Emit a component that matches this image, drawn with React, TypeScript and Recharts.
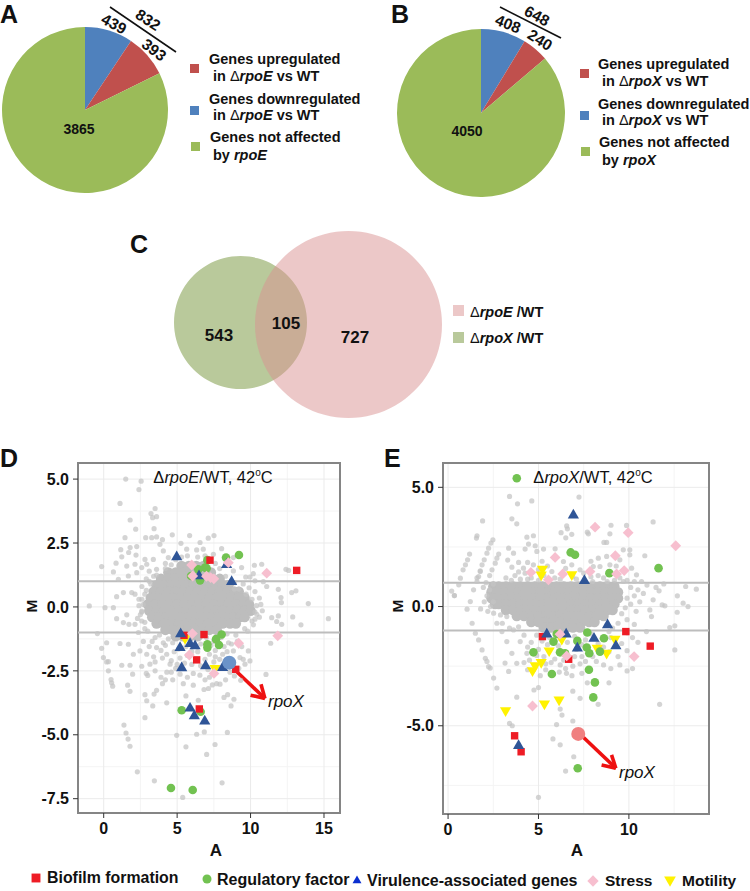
import React from "react";
import {
  CartesianGrid,
  Cell,
  Pie,
  PieChart,
  ReferenceArea,
  ReferenceLine,
  Scatter,
  ScatterChart,
  XAxis,
  YAxis
} from "recharts";

const FONT = "'Liberation Sans', Arial, sans-serif";

// pies: downregulated, upregulated, not affected
const pieNames = ["down", "up", "none"];
const pieColors = ["#4f81bd", "#c0504d", "#9bbb59"];
const rpoECounts = [439, 393, 3865];
const rpoXCounts = [408, 240, 4050];

// venn
const vennOnlyX = 648;
const vennOnlyE = 832;

type Pt = [number, number];

// dense middle of the MA clouds, one row per M value
const coreRowsD: [number, number[]][] = [
  [1.6, [5.3, 5.8, 6.3, 6.8]],
  [1.35, [4.4, 4.9, 5.4, 5.9, 6.4, 6.9, 7.3]],
  [1.1, [3.9, 4.4, 4.9, 5.4, 5.9, 6.4, 6.9, 7.4, 7.9]],
  [0.85, [3.6, 4.1, 4.6, 5.1, 5.6, 6.1, 6.6, 7.1, 7.6, 8.1, 8.5]],
  [0.6, [3.4, 3.9, 4.4, 4.9, 5.4, 5.9, 6.4, 6.9, 7.4, 7.9, 8.4, 8.9, 9.2]],
  [0.35, [3.2, 3.7, 4.2, 4.7, 5.2, 5.7, 6.2, 6.7, 7.2, 7.7, 8.2, 8.7, 9.2, 9.6]],
  [0.1, [3, 3.5, 4, 4.5, 5, 5.5, 6, 6.5, 7, 7.5, 8, 8.5, 9, 9.5, 9.9]],
  [-0.15, [3.1, 3.6, 4.1, 4.6, 5.1, 5.6, 6.1, 6.6, 7.1, 7.6, 8.1, 8.6, 9.1, 9.6, 10]],
  [-0.4, [3.3, 3.8, 4.3, 4.8, 5.3, 5.8, 6.3, 6.8, 7.3, 7.8, 8.3, 8.8, 9.3, 9.6]],
  [-0.65, [3.6, 4.1, 4.6, 5.1, 5.6, 6.1, 6.6, 7.1, 7.6, 8.1, 8.6, 9]],
  [-0.9, [4.2, 4.7, 5.2, 5.7, 6.2, 6.7, 7.2, 7.7]],
  [-1.15, [4.9, 5.4, 5.9, 6.4]]
];

const scatterD: Pt[] = [
  [1.5, 5], [2.55, 4.92], [2.4, 4.59], [1.11, 4.05], [3.5, 3.85], [3.22, 3.65], [3.6, 3.53], [3.33, 3.49],
  [1.8, 3.4], [2.18, 3.04], [3.43, 3.06], [1.45, 2.71], [2.86, 2.71], [3.27, 2.71], [3.6, 2.74], [4.67, 2.82],
  [5.85, 2.79], [7.51, 2.79], [7.12, 2.69], [6.56, 2.52], [5.26, 2.49], [4, 2.63], [3.83, 2.45], [1.8, 2.32],
  [1.16, 2.24], [2.25, 2.36], [1.7, 2.13], [2.2, 2.03], [-0.14, 1.58], [0.66, 1.37], [0.84, 1.71], [1.23, 1.96],
  [1, 1.08], [1.68, 1.21], [2.25, 1.34], [1.57, 1.6], [2.13, 1.67], [2.59, 1.54], [2.93, 1.67], [3.38, 1.86],
  [2.81, 1.86], [3.6, 1.47], [4.06, 2.19], [4.4, 1.93], [5.65, 2.26], [6.33, 2.23], [6.78, 2.26], [8.03, 2.28],
  [7.47, 2.06], [8.83, 1.93], [9.39, 1.54], [8.83, 1.41], [3.1, 1.4], [3.4, 1.2], [2.9, 1.1], [3.2, 0.9],
  [2.6, 0.8], [2.8, 0.5], [2.4, 0.3], [2.7, 0.1], [2.5, -0.3], [2.8, -0.6], [3, -0.95], [3.5, -1.2],
  [4.2, 1.7], [4.6, 1.65], [7.9, 1.5], [8.3, 1.2], [8.9, 0.95], [9.2, 0.7], [9.7, 0.5], [10.1, 0.3],
  [10.4, 0.05], [10.3, -0.2], [10.1, -0.55], [9.6, -0.85], [9, -1.1], [8.4, -1.05], [8, -1.2],
  [4.2, 1.5], [4.9, 1.85], [5.3, 1.95], [5.7, 2], [6.4, 1.95], [6.9, 2], [7.6, 1.7], [3.6, 1.25], [3.1, 1],
  [8.9, 0.7], [9.5, 0.9], [9.9, 0.75], [10.3, 0.6], [10.6, 0.35], [10.7, 0.1], [10.8, -0.15], [10.6, -0.4],
  [10.2, -0.7], [9.8, -0.95], [2.9, 0.65], [2.6, 0.3], [2.4, 0.05], [2.6, -0.2], [2.3, -0.45], [2.8, -0.85],
  [-0.98, 0.04], [0.09, -0.03], [0.66, -0.03], [0.88, -0.46], [1.57, -0.31], [-0.43, -1.04], [15.3, -0.46],
  [13.43, -0.7], [12.87, -0.39], [13.93, 0.13], [12.07, 0.37], [12.1, 0.17], [12.8, 0.56], [13.09, 0.63],
  [11.89, 0.69], [11.1, 0.8], [12.41, 1.47], [12.59, 1.43], [10.76, 1.67], [10.26, 1.63], [10.19, 1.3],
  [9.67, 1.17], [9.96, 1.17], [10.87, 0.99], [10.3, 1.02], [12.12, -0.68], [11.78, -0.57], [11.89, -0.35],
  [11.44, -0.42], [10.42, -0.29], [10.3, -0.48], [11.37, -1.42], [1.34, -0.61], [2.13, 0.5], [1.91, 0.56],
  [0.88, 0.4], [1.34, 0.56], [1.72, -0.68], [2.13, -0.68], [2.59, -0.55], [2.59, -0.16], [2.36, -1],
  [0.2, -1.4], [-0.14, -1.62], [-0.02, -1.98], [0.32, -2.14], [1.11, -1.43], [1.68, -1.46], [2.02, -1.85],
  [2.47, -1.72], [2.93, -1.85], [3.6, -1.59], [4.06, -1.4], [4.29, -1.85], [3.15, -2.24], [4.52, -2.24],
  [9.28, -1.98], [9.5, -2.05], [9.85, -1.72], [8.83, -1.72], [8.83, -2.24], [9.62, -2.24], [9.96, -2.11],
  [3.9, -1.7], [3.4, -1.95], [4.8, -1.75], [5.2, -2], [5.7, -1.9], [6.4, -1.75], [7.2, -1.85], [7.6, -1.7],
  [8.2, -1.55], [8.5, -1.4], [7.5, -1.35], [7, -1.2], [4.4, -1.25], [3.3, -1.35], [7.9, -2.05], [6.9, -2.05],
  [3.8, -1.1], [4.2, -1.5], [4.7, -1.4], [5.1, -1.65], [5.6, -1.55], [6, -1.75], [6.6, -1.45], [7, -1.6], [7.3, -1.5],
  [7.6, -1.95], [8.1, -1.85], [8.4, -1.75], [8.7, -1.45], [9.1, -1.35], [9.4, -1.55], [3.1, -1.55], [2.7, -1.35],
  [3.5, -2.15], [4, -2], [4.6, -2.1], [5, -2.25], [5.5, -2.2], [6, -2.25], [6.6, -2.3], [7.1, -2.45], [7.5, -2.15],
  [4.2, -2.85], [4.6, -2.55], [4.9, -2.4], [5.7, -2.75], [6.1, -2.6], [6.9, -2.85], [7.4, -3.05], [8.9, -2.7],
  [8.6, -2.55], [9.2, -2.4],
  [0.2, -2.15], [0.32, -2.5], [0.5, -2.84], [0.54, -2.97], [0.61, -3.1], [1.23, -2.28], [1.79, -2.28],
  [1.97, -2.63], [2.59, -2.32], [1.63, -3.06], [1.79, -3.3], [2.81, -3.43], [2.93, -3.67], [3.34, -3.87],
  [3.43, -3.41], [3.6, -3.26], [4.29, -3.75], [2.81, -4.33], [1.38, -4.62], [1.52, -4.93], [1.66, -5.17],
  [1.79, -5.45], [4.97, -5.02], [6.33, -4.98], [6.85, -4.89], [8.42, -4.91], [5.6, -5.47], [7.58, -5.38],
  [7.01, -5.77], [2.29, -6.45], [3.45, -6.8], [8.06, -6.88], [5.38, -7.45], [5.6, -3.48], [6.44, -3.65],
  [8.19, -3.54], [8.44, -3.43], [8.87, -3.61], [8.67, -3.87], [11.05, -2.64], [9.33, -2.87], [7.69, -3],
  [7.92, -3.02], [7.13, -3.19], [6.83, -3.23], [6.1, -3.06], [5.42, -3], [4.7, -2.85], [4, -3], [3.9, -2.75],
  [3, -2.68], [3.5, -2.5], [4.3, -2.55], [5.2, -2.63], [6.55, -2.67], [7.2, -2.75], [8.3, -2.85], [2.9, -2.6]
];

const coreRowsE: [number, number[]][] = [
  [0.84, [2.5, 2.8, 3.2, 3.6, 4, 4.4, 4.8, 5.2, 5.6, 6, 6.4, 6.8, 7.2, 7.6, 8, 8.4, 8.8, 9.2]],
  [0.6, [2.4, 2.7, 3.1, 3.5, 3.9, 4.3, 4.7, 5.1, 5.5, 5.9, 6.3, 6.7, 7.1, 7.5, 7.9, 8.3, 8.7, 9.1, 9.4]],
  [0.35, [2.4, 2.7, 3.1, 3.5, 3.9, 4.3, 4.7, 5.1, 5.5, 5.9, 6.3, 6.7, 7.1, 7.5, 7.9, 8.3, 8.7, 9.1, 9.4]],
  [0.1, [2.6, 2.8, 3.2, 3.6, 4, 4.4, 4.8, 5.2, 5.6, 6, 6.4, 6.8, 7.2, 7.6, 8, 8.4, 8.8, 9.2]],
  [-0.15, [3.2, 3.6, 4, 4.4, 4.8, 5.2, 5.6, 6, 6.4, 6.8, 7.2, 7.6, 8, 8.4, 8.8, 9.1]],
  [-0.4, [3.8, 4.2, 4.6, 5, 5.4, 5.8, 6.2, 6.6, 7, 7.4, 7.8, 8.2, 8.6]],
  [-0.65, [4.6, 5, 5.4, 5.8, 6.2, 6.6, 7, 7.4, 7.8, 8.1]],
  [-0.88, [5.3, 5.7, 6.1, 6.5, 6.9, 7.3]]
];

const scatterE: Pt[] = [
  [3.4, 4.62], [3.84, 4.31], [4.63, 4.43], [7.24, 4.59], [1.91, 3.59], [3.53, 3.68], [3.8, 3.47], [11.34, 3.55],
  [6.56, 3.38], [6.6, 3.26], [6.25, 3.1], [6.84, 3.03], [6.51, 2.88], [7.7, 3.12], [7.76, 3.05], [9.01, 3.41],
  [8.95, 3.05], [9.87, 3.4], [4.36, 2.91], [4.72, 2.97], [4.45, 2.62], [4.82, 2.55], [3.35, 2.45], [3.62, 2.24],
  [4.26, 2.41], [4.91, 2.31], [5.28, 2.41], [5.92, 2.42], [1.6, 2.97], [1.57, 2.87], [8.77, 2.69], [8.62, 2.69],
  [10.05, 2.38], [10.05, 2.17], [9.69, 2.38], [8.31, 2.03], [8.77, 2.1], [10.88, 2.13], [9.5, 1.96], [10.15, 1.61],
  [8.03, 1.68], [8.4, 1.68], [3.53, 1.65], [4.17, 1.61], [4.72, 1.75], [6.38, 1.89], [6.84, 1.75], [7.3, 1.54],
  [4.26, 1.4], [5.74, 1.47], [8.95, 1.75], [10.42, 1.33], [11.93, 0.95], [13.14, 0.84], [13.73, 0.73], [12.68, 0.45],
  [11.84, 0.07], [11.99, 0.03], [13, 0.14], [13.27, 0], [12.67, -0.24], [11.67, 0.66], [11.34, 0.28], [11.16, -0.14],
  [11.25, -0.42], [12.54, -0.81], [12.26, -0.88], [12.54, -1.82], [10.97, -1.05], [3.9, 1.45], [5, 1.55], [5.5, 1.7],
  [6.9, 1.25], [7.9, 1.25], [8.3, 1.3], [8.6, 1.2], [9.9, 1.1], [10.7, 1.05], [11, 0.9], [11.5, 0.8], [10.1, 0.8],
  [10.5, 0.7], [10.8, 0.55], [10.3, 0.45], [9.9, 0.35], [10.6, 0.2], [10.1, 0.1], [9.8, -0.05], [10.4, -0.2], [9.6, -0.3],
  [9.9, -0.55], [9.4, -0.7], [10.3, -0.75], [9.1, -0.9], [8.9, -1.05],
  [3.2, 1.2], [3.5, 1.1], [3.7, 1.3], [4, 1.15], [4.4, 1.15], [4.6, 1.2], [5, 1.1], [5.3, 1.3], [5.9, 1.2], [6.2, 1.15],
  [6.5, 1.6], [7.1, 1.15], [7.5, 1.4], [8, 1.05], [8.8, 1.05], [9.2, 1.1], [9.5, 1.2], [9.7, 1.05], [10.3, 1.05],
  [3.9, 1.85], [3.3, 1.95], [4.4, 1.85], [5.2, 1.9], [7.9, 1.9], [9.3, 1.7],
  // diagonal runs at low counts, upper left
  [2.48, 2.8], [2.37, 2.66], [2.24, 2.45], [2.15, 2.24], [2, 1.96], [1.88, 1.75], [1.78, 1.5], [1.6, 1.2],
  [1.19, 2.2], [1.08, 1.96], [0.96, 1.75], [0.83, 1.54], [0.68, 1.19], [0.59, 0.91], [0.35, 0.46],
  [2.8, 2.2], [2.7, 2.03], [2.61, 1.82], [2.43, 1.54], [2.3, 1.3], [2.1, 1.0], [1.95, 0.8],
  [1.78, 1.47], [1.69, 1.26], [1.6, 1.05], [1.41, 0.7], [1.23, 0.21], [1.05, -0.11], [0.35, 0.46], [0.2, 0.65],
  [2.5, 0.95], [2.3, 0.7], [2.15, 0.45], [2, 0.2], [1.8, -0.1], [2.5, 0.2], [2.35, 0.0], [2.2, -0.2],
  // diagonal runs at low counts, lower left
  [1.33, -0.7], [1.51, -1.12], [1.69, -1.4], [1.88, -1.82], [2.06, -2.17], [2.24, -2.52], [2.15, -2.3], [2.33, -2.58],
  [2.52, -3], [2.7, -3.42], [2.52, -0.28], [2.7, -0.7], [2.98, -1.05], [3.25, -1.47], [3.53, -1.96], [3.8, -2.38],
  [3.15, -2.37], [3.35, -2.72], [3.25, -0.42], [3.62, -0.98], [3.99, -1.47], [4.36, -1.96], [3.9, -0.85], [4.2, -1.2],
  [4.6, -1.5], [5, -1.8], [5.5, -1.6], [5.2, -1.45], [6.1, -1.65], [6.6, -1.5], [7.1, -1.8], [7.4, -1.6], [7.9, -1.15],
  [8.6, -1.7], [9.6, -1.55], [9.9, -1.85], [10.2, -1.3], [4.2, -2.35], [4.4, -2.65], [4.5, -2.25],
  [4.9, -1.2], [5.6, -1.3], [6.2, -1.35], [7, -1.25], [7.6, -1.4], [8.3, -1.55], [9, -1.3], [4.4, -1.7], [4.9, -2.05],
  [5.4, -2.4], [5.9, -2.2], [6.4, -2.25], [7, -2.1], [7.4, -2.1], [8, -2.1], [8.9, -1.9], [9.4, -2.1], [9.9, -1.1],
  [10.5, -1.5], [3, -0.7], [3.4, -0.9], [2.9, -0.35],
  // lower tail
  [5.3, -2.1], [5.7, -2.35], [6.2, -2.45], [6.5, -2.6], [6.9, -2.5], [7.3, -2.4], [7.6, -2.3], [8.2, -2.3],
  [8.6, -2.45], [9, -2.6], [9.5, -2.45], [9.9, -2.7], [10.2, -2.6], [5.1, -2.9], [5.4, -2.65], [6.15, -2.75],
  [6.55, -2.8], [6.85, -2.9], [7.4, -2.8], [7.7, -3.2], [8.9, -3.2], [5.0, -3.4], [4.75, -3.5], [3.8, -3.8],
  [6.9, -3.55], [7.3, -3.85], [8.3, -4.1], [11.7, -4.1], [6.2, -4.3], [6.3, -4.55], [3.4, -4.9], [3.55, -5],
  [6, -4.95], [6.9, -4.8], [5.8, -5.55], [6.2, -5.8], [6.95, -6.3], [6.5, -6.9], [5, -8]
];

type Kind = "square" | "circle" | "triangle" | "diamond" | "motility";

const biofilmD: Pt[] = [[7.24, 1.83], [13.14, 1.43], [5.47, -1.11], [6.83, -1.08], [6.33, -2.07], [6.51, -3.99], [8.99, -2.44]];
const regulatoryD: Pt[] = [
  [9.21, 2.03], [8.33, 1.93], [7.06, 1.83], [6.9, 1.54], [6.44, 1.47], [7.01, 1.51], [5.95, 1.21], [6.56, 1.04], [8.03, -1.08],
  [7.65, -1.26], [7.85, -1.49], [7.06, -1.59], [7.06, -1.46], [5.31, -4.04], [6.6, -4.1], [4.58, -7.08], [6.06, -7.16]
];
const virulenceD: Pt[] = [
  [4.97, 1.99], [6.49, 1.25], [8.37, 1.69], [8.71, 1.02], [5.24, -1.02], [5.88, -1.4], [6.22, -1.49], [5.2, -1.56],
  [5.31, -2.35], [6.94, -2.27], [8.1, -2.34], [5.88, -3.93], [6.17, -4.23], [6.88, -4.43]
];
const stressD: Pt[] = [
  [5.99, 1.64], [6.06, 1.21], [8.49, 1.73], [7.28, 1.15], [7.5, 1.1], [7, 1.2], [11.1, 1.32], [11.85, -1.13], [9.19, -1.42],
  [6.04, -1.04], [5.83, -1.88], [7.51, -2.6]
];
const motilityD: Pt[] = [[5.54, -1.26], [7.58, -2.44]];
const rpoXPointD: Pt[] = [[8.55, -2.18]];

const biofilmE: Pt[] = [[9.83, -1.05], [11.18, -1.66], [5.22, -1.26], [6.67, -2.21], [3.68, -5.42], [4.04, -6.09]];
const regulatoryE: Pt[] = [
  [3.8, 5.38], [6.78, 2.27], [7.02, 2.17], [8.92, 1.4], [11.64, 1.61], [7.7, -1.09], [8.62, -1.33], [7.15, -1.44], [7.67, -1.72],
  [7.81, -1.96], [8.4, -1.89], [4.72, -1.92], [5.83, -1.47], [6.01, -1.15], [6.19, -1.92], [6.47, -1.96], [5.74, -2.83],
  [7.79, -2.65], [8.12, -3.18], [8.03, -3.81], [7.17, -6.78]
];
const virulenceE: Pt[] = [
  [6.93, 3.87], [7.54, 1.12], [8.82, -0.73], [5.46, -1.12], [6.53, -1.12], [8.07, -1.3], [7.15, -1.71], [9.28, -1.61], [3.9, -5.8]
];
const stressE: Pt[] = [
  [8.13, 3.33], [9.96, 3.1], [12.59, 2.55], [5.92, 2.06], [9.25, 2.13], [7.85, 1.47], [9.32, 1.37], [9.74, 1.51], [4.58, 1.43],
  [6.34, 1.37], [5.55, 1.12], [6.19, -1.16], [6.56, -2.07], [10.29, -2.1], [4.67, -4.17]
];
const motilityE: Pt[] = [
  [5.22, 1.54], [5.15, 1.29], [6.84, 1.3], [6.29, -1.4], [5.59, -1.89], [8.25, -1.78], [8.77, -1.99], [9.23, -1.4], [5.15, -2.38],
  [4.82, -2.51], [4.67, -2.72], [5.33, -4.12], [6.14, -3.95], [3.18, -4.4]
];
const rpoXPointE: Pt[] = [[7.2, -5.34]];

const arrowD: Pt[][] = [
  [[8.83, -2.41], [10.98, -3.58]],
  [[10, -3.45], [10.98, -3.58]],
  [[10.71, -3.02], [10.98, -3.58]]
];
const arrowE: Pt[][] = [
  [[7.48, -5.48], [9.28, -6.78]],
  [[8.49, -6.64], [9.28, -6.78]],
  [[9.04, -6.22], [9.28, -6.78]]
];

const toRows = (pts: Pt[]) => pts.map(([a, m]) => ({ a, m }));
const fromCore = (rows: [number, number[]][]) => rows.flatMap(([m, as]) => as.map((a) => ({ a, m })));

const COLORS: Record<Kind, string> = {
  square: "#ee1c25",
  circle: "#72c251",
  triangle: "#2f5597",
  diamond: "#f7bfcf",
  motility: "#fff200"
};

function Glyph({ kind, cx, cy, s = 1, fill }: { kind: Kind; cx: number; cy: number; s?: number; fill?: string }) {
  const c = fill ?? COLORS[kind];
  if (kind === "square") return <rect x={cx - 3.7 * s} y={cy - 3.7 * s} width={7.4 * s} height={7.4 * s} fill={c} />;
  if (kind === "circle") return <circle cx={cx} cy={cy} r={4.3 * s} fill={c} />;
  if (kind === "triangle")
    return <polygon points={`${cx},${cy - 5.5 * s} ${cx + 5.6 * s},${cy + 4.2 * s} ${cx - 5.6 * s},${cy + 4.2 * s}`} fill={c} />;
  if (kind === "diamond")
    return <polygon points={`${cx},${cy - 5.4 * s} ${cx + 5.4 * s},${cy} ${cx},${cy + 5.4 * s} ${cx - 5.4 * s},${cy}`} fill={c} />;
  return <polygon points={`${cx},${cy + 5.5 * s} ${cx + 5.6 * s},${cy - 4.2 * s} ${cx - 5.6 * s},${cy - 4.2 * s}`} fill={c} />;
}

const marker = (kind: Kind) => (p: any) => <Glyph kind={kind} cx={p.cx} cy={p.cy} />;
const greyDot = (p: any) => <circle cx={p.cx} cy={p.cy} r={2.6} fill="#c4c4c4" fillOpacity={0.72} />;
const coreDot = (p: any) => <circle cx={p.cx} cy={p.cy} r={5.2} fill="#bdbdbd" />;
const bigDot = (fill: string) => (p: any) => <circle cx={p.cx} cy={p.cy} r={7} fill={fill} />;

function MAPlot(props: {
  left: number;
  width: number;
  height: number;
  margin: { top: number; left: number; right: number };
  axisH: number;
  xDomain: [number, number];
  yDomain: [number, number];
  xTicks: number[];
  yTicks: number[];
  xMinor: number[];
  yMinor: number[];
  core: { a: number; m: number }[];
  grey: Pt[];
  biofilm: Pt[];
  regulatory: Pt[];
  virulence: Pt[];
  stress: Pt[];
  motility: Pt[];
  rpoX: Pt[];
  rpoXFill: string;
  arrow: Pt[][];
}) {
  const tick = { fontSize: 16, fontWeight: 700, fill: "#111", fontFamily: FONT };
  return (
    <div style={{ position: "absolute", left: props.left, top: 450 }}>
      <ScatterChart
        width={props.width}
        height={props.height}
        margin={{ top: props.margin.top, left: 0, right: props.margin.right, bottom: 0 }}
      >
        <CartesianGrid horizontalValues={props.yMinor} verticalValues={props.xMinor} stroke="#f4f4f4" />
        <CartesianGrid horizontalValues={props.yTicks} verticalValues={props.xTicks} stroke="#ebebeb" />
        <XAxis
          type="number"
          dataKey="a"
          domain={props.xDomain}
          ticks={props.xTicks}
          allowDataOverflow
          axisLine={false}
          tickSize={5}
          tickMargin={5}
          tickLine={{ stroke: "#333" }}
          tick={tick}
          height={props.axisH}
        />
        <YAxis
          type="number"
          dataKey="m"
          domain={props.yDomain}
          ticks={props.yTicks}
          allowDataOverflow
          axisLine={false}
          tickSize={5}
          tickMargin={4}
          tickLine={{ stroke: "#333" }}
          tick={tick}
          tickFormatter={(v) => Number(v).toFixed(1)}
          width={props.margin.left}
        />
        <Scatter data={props.core} shape={coreDot} isAnimationActive={false} />
        <Scatter data={toRows(props.grey)} shape={greyDot} isAnimationActive={false} />
        <ReferenceLine y={1} stroke="#bdbdbd" strokeWidth={2} />
        <ReferenceLine y={-1} stroke="#bdbdbd" strokeWidth={2} />
        <Scatter data={toRows(props.motility)} shape={marker("motility")} isAnimationActive={false} />
        <Scatter data={toRows(props.regulatory)} shape={marker("circle")} isAnimationActive={false} />
        <Scatter data={toRows(props.biofilm)} shape={marker("square")} isAnimationActive={false} />
        <Scatter data={toRows(props.virulence)} shape={marker("triangle")} isAnimationActive={false} />
        <Scatter data={toRows(props.stress)} shape={marker("diamond")} isAnimationActive={false} />
        <Scatter data={toRows(props.rpoX)} shape={bigDot(props.rpoXFill)} isAnimationActive={false} />
        {props.arrow.map((seg, i) => (
          <ReferenceLine
            key={i}
            segment={[
              { x: seg[0][0], y: seg[0][1] },
              { x: seg[1][0], y: seg[1][1] }
            ]}
            stroke="#ee1111"
            strokeWidth={3.6}
          />
        ))}
        <ReferenceArea
          x1={props.xDomain[0]}
          x2={props.xDomain[1]}
          y1={props.yDomain[0]}
          y2={props.yDomain[1]}
          fill="none"
          stroke="#858585"
          strokeWidth={2}
        />
      </ScatterChart>
    </div>
  );
}

function GenePie({ left, top, values, r }: { left: number; top: number; values: number[]; r: number }) {
  const data = values.map((value, i) => ({ name: pieNames[i], value }));
  return (
    <div style={{ position: "absolute", left, top }}>
      <PieChart width={2 * r + 4} height={2 * r + 4} margin={{ top: 0, left: 0, right: 0, bottom: 0 }}>
        <Pie
          data={data}
          dataKey="value"
          cx={r + 2}
          cy={r + 2}
          outerRadius={r}
          startAngle={90}
          endAngle={-270}
          stroke="none"
          isAnimationActive={false}
        >
          {data.map((d, i) => (
            <Cell key={d.name} fill={pieColors[i]} />
          ))}
        </Pie>
      </PieChart>
    </div>
  );
}

function Venn() {
  return (
    <div style={{ position: "absolute", left: 160, top: 220 }}>
      <PieChart width={300} height={210} margin={{ top: 0, left: 0, right: 0, bottom: 0 }}>
        <Pie
          data={[{ name: "ΔrpoX /WT", value: vennOnlyX }]}
          dataKey="value"
          cx={80.5}
          cy={102.5}
          outerRadius={66.5}
          fill="#b9c99b"
          stroke="none"
          isAnimationActive={false}
        />
        <Pie
          data={[{ name: "ΔrpoE /WT", value: vennOnlyE }]}
          dataKey="value"
          cx={188.5}
          cy={104.5}
          outerRadius={93.5}
          fill="rgb(217,145,145)"
          fillOpacity={0.5}
          stroke="none"
          isAnimationActive={false}
        />
      </PieChart>
    </div>
  );
}

function T({
  x,
  y,
  size = 14.5,
  weight = 700,
  rot = 0,
  center = false,
  children
}: {
  x: number;
  y: number;
  size?: number;
  weight?: number;
  rot?: number;
  center?: boolean;
  children: React.ReactNode;
}) {
  return (
    <div
      style={{
        position: "absolute",
        left: x,
        top: y,
        fontSize: size,
        fontWeight: weight,
        fontFamily: FONT,
        color: "#111",
        whiteSpace: "pre",
        lineHeight: 1,
        transform: `translate(${center ? "-50%" : "0"},-50%) rotate(${rot}deg)`
      }}
    >
      {children}
    </div>
  );
}

const Delta = () => <span style={{ fontWeight: 400 }}>Δ</span>;

function Box({ x, y, s, c }: { x: number; y: number; s: number; c: string }) {
  return <div style={{ position: "absolute", left: x - s / 2, top: y - s / 2, width: s, height: s, background: c }} />;
}

function PieLegend({ dx, dy, gene, mark }: { dx: number; dy: number; gene: string; mark: number }) {
  return (
    <>
      <Box x={mark} y={68 + dy} s={9} c={pieColors[1]} />
      <Box x={mark} y={110 + dy} s={9} c={pieColors[0]} />
      <Box x={mark + 1} y={146 + dy} s={9} c={pieColors[2]} />
      <T x={209 + dx} y={59 + dy}>Genes upregulated</T>
      <T x={213 + dx} y={76 + dy}>in <Delta /><i>{gene}</i> vs WT</T>
      <T x={209 + dx} y={99 + dy}>Genes downregulated</T>
      <T x={213 + dx} y={115 + dy}>in <Delta /><i>{gene}</i> vs WT</T>
      <T x={210 + dx} y={137 + dy}>Genes not affected</T>
      <T x={213 + dx} y={155 + dy}>by <i>{gene}</i></T>
    </>
  );
}

function LegendGlyph({ kind, x, y }: { kind: Kind; x: number; y: number }) {
  const fill = kind === "triangle" ? "#0a2fd0" : undefined;
  return (
    <svg style={{ position: "absolute", left: x - 8, top: y - 8 }} width={16} height={16}>
      <Glyph kind={kind} cx={8} cy={8} s={kind === "triangle" ? 0.8 : kind === "square" ? 1.2 : 1.05} fill={fill} />
    </svg>
  );
}

export default function App() {
  return (
    <div style={{ position: "absolute", left: 0, top: 0, width: 750, height: 891, background: "#fff", overflow: "hidden" }}>
      <GenePie left={0} top={25} values={rpoECounts} r={83} />
      <GenePie left={395} top={27} values={rpoXCounts} r={84} />
      <Venn />

      <MAPlot
        left={0}
        width={360}
        height={410}
        margin={{ top: 13, left: 78, right: 20 }}
        axisH={47}
        xDomain={[-1.75, 16.09]}
        yDomain={[-8.06, 5.63]}
        xTicks={[0, 5, 10, 15]}
        yTicks={[-7.5, -5, -2.5, 0, 2.5, 5]}
        xMinor={[2.5, 7.5, 12.5]}
        yMinor={[-6.25, -3.75, -1.25, 1.25, 3.75]}
        core={fromCore(coreRowsD)}
        grey={scatterD}
        biofilm={biofilmD}
        regulatory={regulatoryD}
        virulence={virulenceD}
        stress={stressD}
        motility={motilityD}
        rpoX={rpoXPointD}
        rpoXFill="#6b93c9"
        arrow={arrowD}
      />
      <MAPlot
        left={370}
        width={360}
        height={410}
        margin={{ top: 13, left: 73, right: 21 }}
        axisH={46}
        xDomain={[-0.28, 14.43]}
        yDomain={[-8.7, 6.02]}
        xTicks={[0, 5, 10]}
        yTicks={[-5, 0, 5]}
        xMinor={[2.5, 7.5, 12.5]}
        yMinor={[-7.5, -2.5, 2.5]}
        core={fromCore(coreRowsE)}
        grey={scatterE}
        biofilm={biofilmE}
        regulatory={regulatoryE}
        virulence={virulenceE}
        stress={stressE}
        motility={motilityE}
        rpoX={rpoXPointE}
        rpoXFill="#f08080"
        arrow={arrowE}
      />

      {/* panel letters */}
      <T x={0} y={14} size={25}>A</T>
      <T x={391} y={14} size={25}>B</T>
      <T x={130} y={244} size={25}>C</T>
      <T x={0} y={458} size={25}>D</T>
      <T x={384} y={458} size={25}>E</T>

      {/* pie annotations */}
      <svg style={{ position: "absolute", left: 0, top: 0 }} width={750} height={100}>
        <line x1={110} y1={7} x2={176} y2={52} stroke="#111" strokeWidth={1.6} />
        <line x1={500} y1={7} x2={561} y2={38} stroke="#111" strokeWidth={1.6} />
      </svg>
      <T x={79} y={129} size={14} center>3865</T>
      <T x={114} y={24} size={15.5} rot={28} center>439</T>
      <T x={154} y={50} size={15.5} rot={38} center>393</T>
      <T x={148} y={20} size={15.5} rot={33} center>832</T>
      <T x={467} y={131} size={14} center>4050</T>
      <T x={508} y={24} size={15.5} rot={22} center>408</T>
      <T x={540} y={40} size={15.5} rot={32} center>240</T>
      <T x={537} y={16} size={15.5} rot={28} center>648</T>
      <PieLegend dx={0} dy={0} gene="rpoE" mark={194} />
      <PieLegend dx={389} dy={5} gene="rpoX" mark={584} />

      {/* venn labels */}
      <T x={219} y={335} size={17} center>543</T>
      <T x={286} y={323} size={17} center>105</T>
      <T x={355} y={337} size={17} center>727</T>
      <Box x={458} y={310} s={11} c="#ecc8c8" />
      <Box x={458} y={337} s={11} c="#b9c99b" />
      <T x={470} y={312}><Delta /><i>rpoE</i> /WT</T>
      <T x={470} y={338}><Delta /><i>rpoX</i> /WT</T>

      {/* MA plot labels */}
      <T x={213} y={477} size={16.5} weight={400} center>Δ<i>rpoE</i>/WT, 42<sup style={{ fontSize: 10, lineHeight: 0 }}>o</sup>C</T>
      <T x={593} y={477} size={16.5} weight={400} center>Δ<i>rpoX</i>/WT, 42<sup style={{ fontSize: 10, lineHeight: 0 }}>o</sup>C</T>
      <T x={32} y={606} size={15.5} rot={-90} center>M</T>
      <T x={398} y={606} size={15.5} rot={-90} center>M</T>
      <T x={216} y={850} size={17} center>A</T>
      <T x={577} y={850} size={17} center>A</T>
      <T x={268} y={701} size={17} weight={400}><i>rpoX</i></T>
      <T x={619} y={772} size={17} weight={400}><i>rpoX</i></T>

      {/* category key */}
      <LegendGlyph kind="square" x={36} y={878} />
      <T x={47} y={878} size={15.9}>Biofilm formation</T>
      <LegendGlyph kind="circle" x={207} y={879} />
      <T x={217} y={880} size={16}>Regulatory factor</T>
      <LegendGlyph kind="triangle" x={357} y={880} />
      <T x={367} y={881} size={16}>Virulence-associated genes</T>
      <LegendGlyph kind="diamond" x={593} y={881} />
      <T x={605} y={881} size={15.5}>Stress</T>
      <LegendGlyph kind="motility" x={670} y={881} />
      <T x={682} y={881} size={15.5}>Motility</T>
    </div>
  );
}
